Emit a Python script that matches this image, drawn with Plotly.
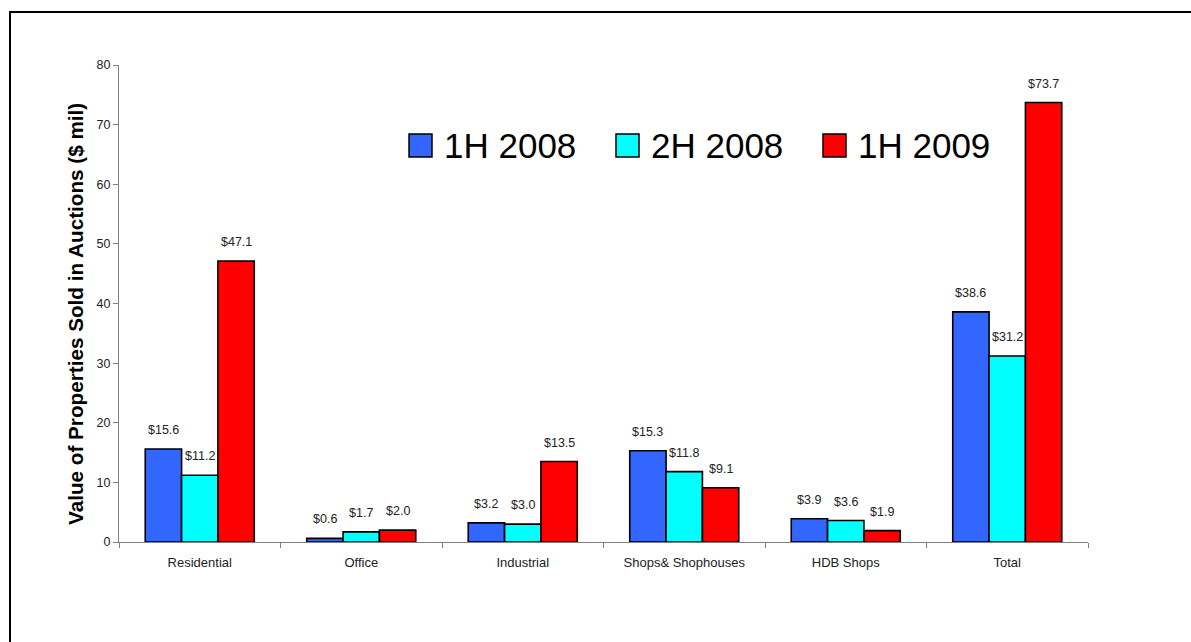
import plotly.graph_objects as go

categories = ["Residential", "Office", "Industrial", "Shops& Shophouses", "HDB Shops", "Total"]
series_names = ["1H 2008", "2H 2008", "1H 2009"]
v_1h2008 = [15.6, 0.6, 3.2, 15.3, 3.9, 38.6]
v_2h2008 = [11.2, 1.7, 3.0, 11.8, 3.6, 31.2]
v_1h2009 = [47.1, 2.0, 13.5, 9.1, 1.9, 73.7]
y_ticks = [0, 10, 20, 30, 40, 50, 60, 70, 80]
y_title = "Value of Properties Sold in Auctions ($ mil)"

series_values = [v_1h2008, v_2h2008, v_1h2009]
colors = ["#3366FF", "#00FFFF", "#FF0000"]

W, H = 1191, 642
L, R, T, B = 119, 1088, 65, 542


def px_x(px):
    return (px - L) / (R - L)


def px_y(py):
    return (B - py) / (B - T)


BARGAP = 0.325
bw = (1 - BARGAP) / 3

fig = go.Figure()
for name, vals, col in zip(series_names, series_values, colors):
    fig.add_trace(go.Bar(
        x=categories, y=vals, name=name,
        marker=dict(color=col, line=dict(color="black", width=1.6)),
        showlegend=False,
    ))

annotations = []
for k, vals in enumerate(series_values):
    for i, v in enumerate(vals):
        annotations.append(dict(
            x=i + (k - 1) * bw, y=v, xref="x", yref="y",
            text=f"${v:.1f}", showarrow=False,
            yanchor="bottom", xanchor="center", yshift=10,
            font=dict(family="Liberation Sans", size=12.5, color="#222222"),
        ))

# y-axis title
annotations.append(dict(
    x=px_x(75), y=px_y(314), xref="paper", yref="paper",
    text=y_title, textangle=-90, showarrow=False,
    xanchor="center", yanchor="middle",
    font=dict(family="Liberation Sans", size=20.7, color="black", weight="bold"),
))

# manual legend
shapes = []
leg_x0 = 409
step = 207
for k, (name, col) in enumerate(zip(series_names, colors)):
    sx = leg_x0 + k * step
    shapes.append(dict(
        type="rect", xref="paper", yref="paper",
        x0=px_x(sx), x1=px_x(sx + 23), y0=px_y(157), y1=px_y(134),
        fillcolor=col, line=dict(color="black", width=1.5), layer="above",
    ))
    annotations.append(dict(
        x=px_x(sx + 33), y=px_y(145.5), xref="paper", yref="paper",
        text=name, showarrow=False, xanchor="left", yanchor="middle",
        font=dict(family="Liberation Sans", size=35, color="black"),
    ))

# outer frame
shapes.append(dict(
    type="rect", xref="paper", yref="paper",
    x0=px_x(10), x1=px_x(1200), y0=px_y(650), y1=px_y(12),
    line=dict(color="black", width=2), fillcolor="rgba(0,0,0,0)", layer="above",
))

fig.update_layout(
    width=W, height=H,
    margin=dict(l=L, r=W - R, t=T, b=H - B, pad=0),
    paper_bgcolor="white", plot_bgcolor="white",
    barmode="group", bargap=BARGAP, bargroupgap=0,
    annotations=annotations, shapes=shapes,
    showlegend=False,
    font=dict(family="Liberation Sans", color="#222222"),
    xaxis=dict(
        type="category", showline=True, linecolor="#808080", linewidth=1,
        ticks="outside", tickson="boundaries", ticklen=5, tickcolor="#808080",
        tickfont=dict(family="Liberation Sans", size=13, color="#222222"),
        ticklabelstandoff=8,
        showgrid=False, zeroline=False,
    ),
    yaxis=dict(
        range=[0, 80], tickvals=y_ticks, showline=True, linecolor="#808080",
        linewidth=1, ticks="outside", ticklen=5, tickcolor="#808080",
        tickfont=dict(family="Liberation Sans", size=12.5, color="#222222"),
        showgrid=False, zeroline=False, automargin=False,
    ),
)

fig.write_html("out.html")
